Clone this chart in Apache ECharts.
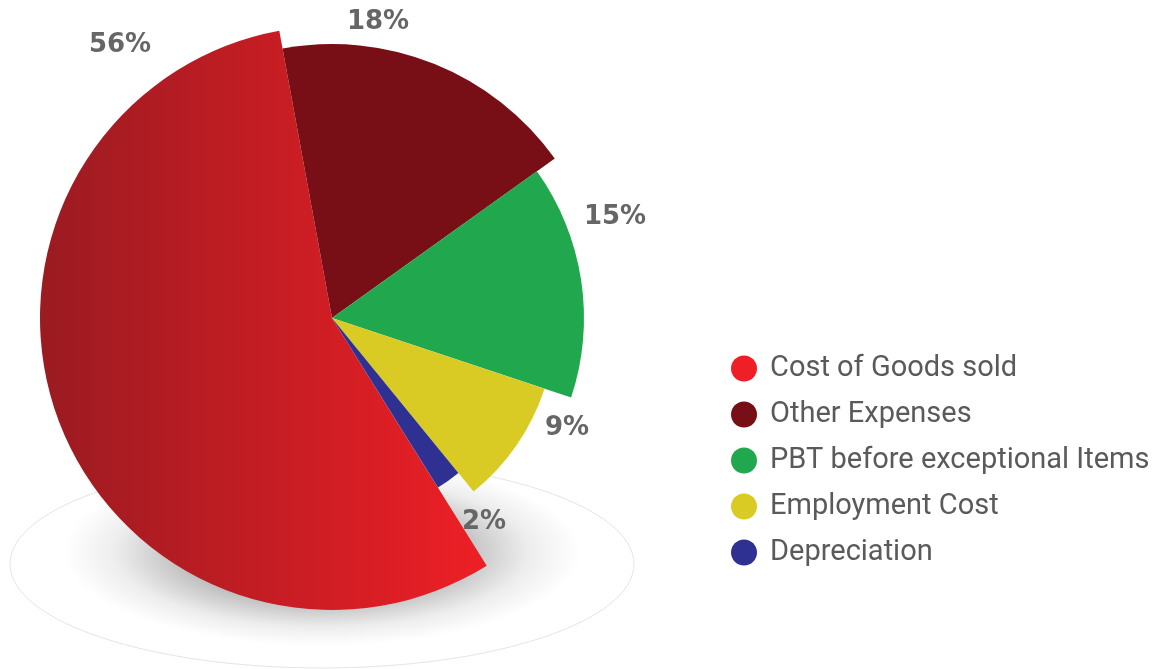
<!DOCTYPE html>
<html>
<head>
<meta charset="utf-8">
<script src="https://cdn.jsdelivr.net/npm/echarts@6/dist/echarts.min.js"></script>
<style>
	html, body { margin: 0; padding: 0; background: #fff; }
	#chart { width: 1159px; height: 669px; }
</style>
</head>
<body>
<div id="chart"></div>
<script>
// shares of total, %
const names = ['Cost of Goods sold', 'Other Expenses', 'PBT before exceptional Items', 'Employment Cost', 'Depreciation'];
const shares = [56, 18, 15, 9, 2];

// look of each slice
const sliceColors = [
	['#9a1b21', '#ee1f26'],
	['#780e16', '#780e16'],
	['#21a84f', '#21a84f'],
	['#d9cb24', '#d9cb24'],
	['#2e3192', '#2e3192']
];
const legendColors = ['#ee1f26', '#780e16', '#21a84f', '#d9cb24', '#2e3192'];
const sliceRadius = [292, 274, 252, 224, 200];
// where each percentage label sits
const labelPos = [[120, 45], [378, 22], [615, 217], [567, 428], [484, 522]];

let chart = echarts.init(document.getElementById('chart'));

function fillOf(i) {
	let c = sliceColors[i];
	return new echarts.graphic.LinearGradient(0, 0, 1, 0, [
		{ offset: 0, color: c[0] },
		{ offset: 1, color: c[1] }
	]);
}

// one pie per slice: all slices are laid out, only slice i is painted
function makeSeries(i) {
	return {
		type: 'pie',
		center: [332, 318],
		radius: [0, sliceRadius[i]],
		startAngle: 302,
		clockwise: true,
		avoidLabelOverlap: false,
		z: 2 + i,
		emphasis: { disabled: true },
		label: {
			show: false,
			position: 'outside',
			formatter: '{c}%',
			fontFamily: 'DejaVu Sans',
			fontWeight: 'bold',
			fontSize: 26,
			color: '#666'
		},
		labelLine: { show: false },
		labelLayout: { x: labelPos[i][0], y: labelPos[i][1], align: 'center', verticalAlign: 'middle' },
		data: names.map(function(n, j) {
			return {
				name: n,
				value: shares[j],
				itemStyle: { color: j === i ? fillOf(i) : 'rgba(0,0,0,0)' },
				label: { show: j === i }
			};
		})
	};
}

let option = {
	animation: false,
	graphic: [
		{
			type: 'ellipse',
			z: -10,
			shape: { cx: 322, cy: 564, rx: 312, ry: 104 },
			style: { fill: '#fff', stroke: '#e4e4e4', lineWidth: 1 }
		},
		{
			// soft shadow under the pie: a circle stretched sideways
			type: 'circle',
			z: -9,
			x: 322,
			y: 552,
			scaleX: 2.75,
			scaleY: 1,
			shape: { cx: 0, cy: 0, r: 94 },
			style: {
				fill: new echarts.graphic.RadialGradient(0.5, 0.5, 0.5, [
					{ offset: 0, color: 'rgba(0,0,0,0.45)' },
					{ offset: 0.55, color: 'rgba(0,0,0,0.25)' },
					{ offset: 0.8, color: 'rgba(0,0,0,0.07)' },
					{ offset: 1, color: 'rgba(0,0,0,0)' }
				])
			}
		}
	],
	legend: {
		orient: 'vertical',
		left: 726,
		top: 349,
		icon: 'circle',
		itemWidth: 26,
		itemHeight: 26,
		itemGap: 17,
		textStyle: { fontFamily: 'Roboto', fontSize: 29, lineHeight: 26, color: '#5a5a5a', padding: [0, 0, 0, 8] },
		data: names.map(function(n, i) {
			return { name: n, itemStyle: { color: legendColors[i] } };
		})
	},
	series: names.map(function(n, i) { return makeSeries(i); })
};
chart.setOption(option);
</script>
</body>
</html>
